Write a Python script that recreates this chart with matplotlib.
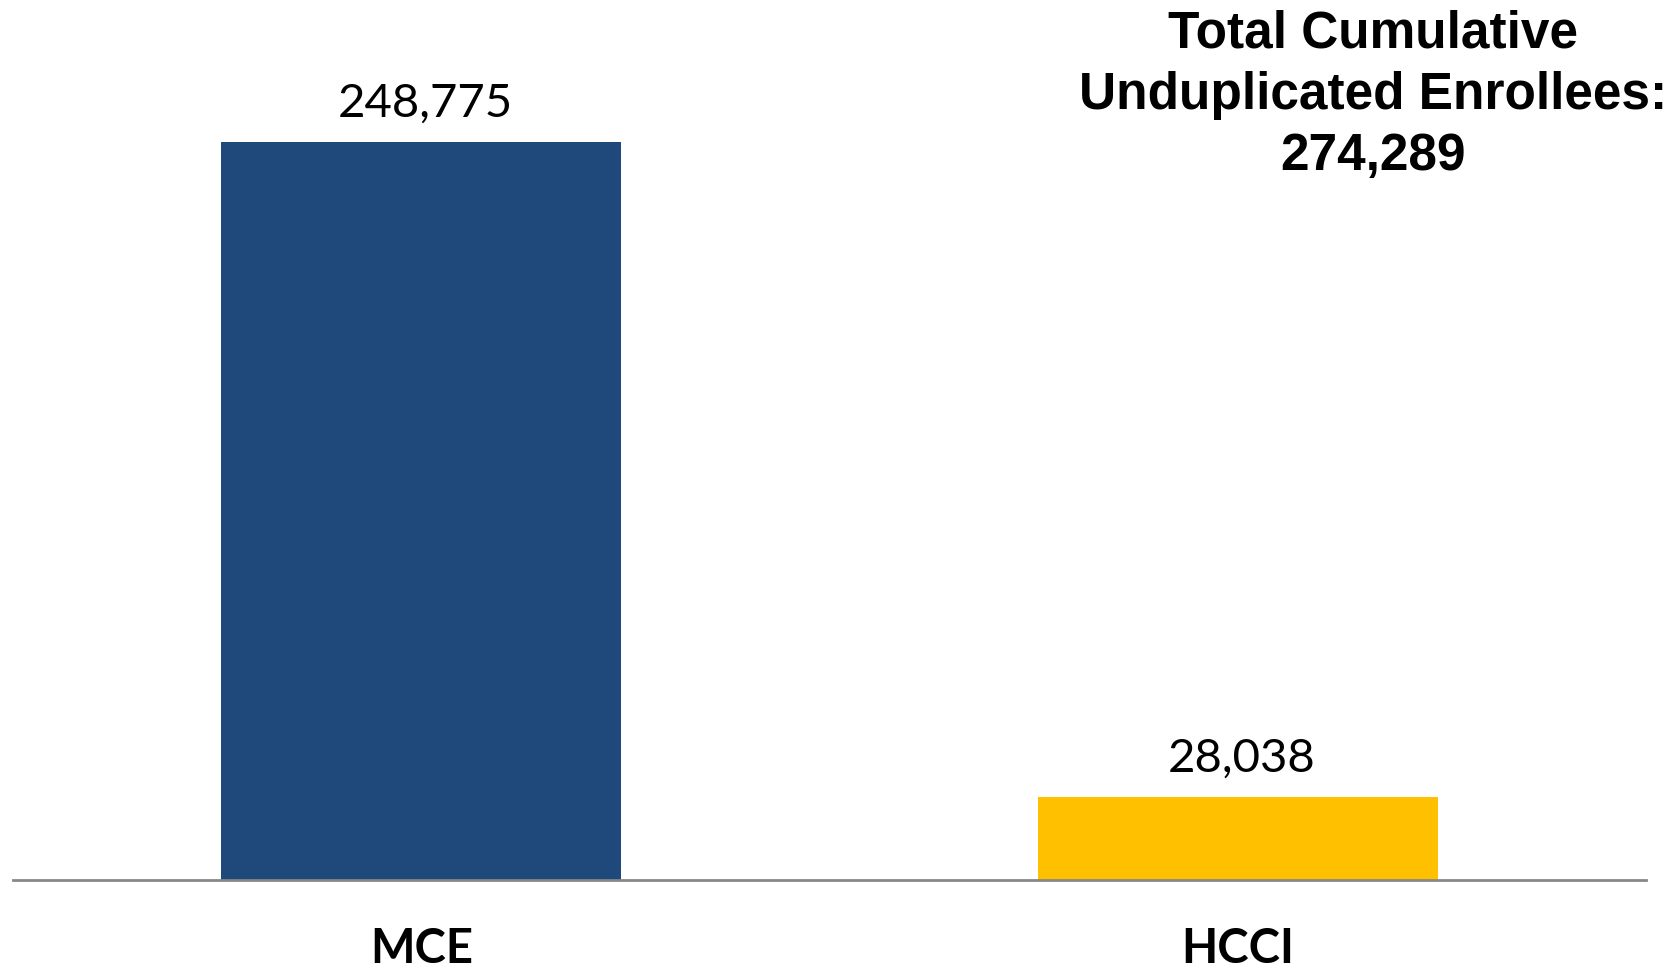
import matplotlib.pyplot as plt

# data
programs = ['MCE', 'HCCI']
enrollees = [248775, 28038]
bar_colors = ['#1F497A', '#FFC000']
total_enrollees = 274289

fig = plt.figure(figsize=(16.73, 9.68), dpi=100)
ax = fig.add_axes([13 / 1673, 1 - 880 / 968, 1633 / 1673, 880 / 968])

x = range(len(programs))
ax.bar(x, enrollees, width=0.49, color=bar_colors)
ax.set_xlim(-0.5, 1.5)
ax.set_ylim(0, 296600)

# value labels above the bars
for xi, v in zip(x, enrollees):
    ax.annotate(f'{v:,}', (xi, v), xytext=(3, 18), textcoords='offset points',
                ha='center', va='baseline', fontsize=34, family='Lato')

for s in ['top', 'right', 'left']:
    ax.spines[s].set_visible(False)
ax.spines['bottom'].set_color('#878787')
ax.spines['bottom'].set_linewidth(2)
ax.set_yticks([])
ax.set_xticks(list(x))
ax.set_xticklabels(programs, fontsize=34, fontweight='bold', family='Lato',
                   va='baseline')
ax.tick_params(axis='x', length=0, pad=60)

fig.text(1373 / 1673, 1 - 10 / 968,
         'Total Cumulative\nUnduplicated Enrollees:\n' + f'{total_enrollees:,}',
         ha='center', va='top', fontsize=37, fontweight='bold',
         family='Liberation Sans', linespacing=1.32)

fig.savefig('out.png', dpi=100)
